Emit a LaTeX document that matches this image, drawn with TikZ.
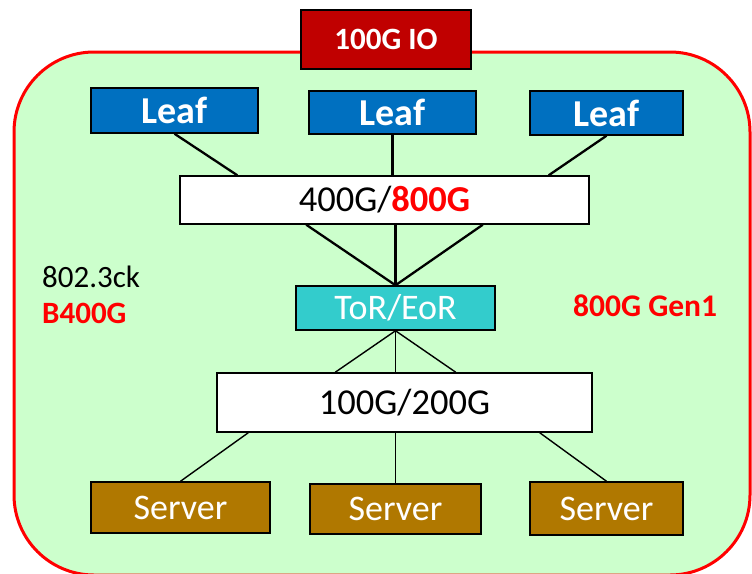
\documentclass[tikz,border=0pt]{standalone}
\usepackage{fontspec}
\setmainfont{Carlito}
\usetikzlibrary{calc}
\definecolor{bggreen}{HTML}{CCFFCC}
\definecolor{iored}{HTML}{C00000}
\definecolor{leafblue}{HTML}{0070C0}
\definecolor{torcyan}{HTML}{33CCCC}
\definecolor{servbrown}{HTML}{B07800}
\definecolor{redtxt}{HTML}{FF0000}
\tikzset{
  box/.style={draw=black, line width=1.5pt, inner sep=0pt, align=center},
  iobox/.style={box, fill=iored, text=white, font=\fontsize{31}{36}\selectfont\bfseries},
  leafbox/.style={box, fill=leafblue, text=white, font=\fontsize{38}{44}\selectfont\bfseries},
  whitebox/.style={box, fill=white, text=black, font=\fontsize{36.5}{42}\selectfont},
  torbox/.style={box, fill=torcyan, text=white, font=\fontsize{36}{42}\selectfont},
  servbox/.style={box, fill=servbrown, text=white, font=\fontsize{36}{42}\selectfont},
  thick link/.style={draw=black, line width=2.3pt},
  thin link/.style={draw=black, line width=1.4pt},
  side/.style={inner sep=0pt, anchor=west, font=\fontsize{31}{36}\selectfont},
}
\begin{document}
\begin{tikzpicture}[x=1pt,y=-1pt]
\useasboundingbox (0,0) rectangle (752,573);
\begin{scope}
\clip (0,0) rectangle (752,573);
\draw[fill=bggreen, draw=redtxt, line width=3pt, rounded corners=80pt] (14,52) rectangle (750,575);
\end{scope}
% nodes
\node[iobox, minimum width=170pt, minimum height=59pt] (io) at (386,39.5) {100G IO};
\node[leafbox, minimum width=167pt, minimum height=45pt] (leaf1) at (174.5,110.5) {\raisebox{-3pt}{Leaf}};
\node[leafbox, minimum width=167pt, minimum height=43pt] (leaf2) at (392.5,112.5) {\raisebox{-3pt}{Leaf}};
\node[leafbox, minimum width=153pt, minimum height=44pt] (leaf3) at (606.5,113) {\raisebox{-3pt}{Leaf}};
\node[whitebox, minimum width=409pt, minimum height=48pt] (mid) at (384.5,200) {400G/\textcolor{redtxt}{\bfseries 800G}};
\node[torbox, minimum width=199pt, minimum height=44pt] (tor) at (395.5,308) {ToR/EoR};
\node[whitebox, minimum width=375pt, minimum height=59pt] (low) at (404.5,402.5) {100G/200G};
\node[servbox, minimum width=179pt, minimum height=51pt] (s1) at (180.5,507.5) {\raisebox{-2pt}{Server}};
\node[servbox, minimum width=171pt, minimum height=50pt] (s2) at (395.5,509) {\raisebox{-2pt}{Server}};
\node[servbox, minimum width=153pt, minimum height=53pt] (s3) at (606.5,508.5) {\raisebox{-2pt}{Server}};
\node[side, text=black] (ck) at (42,277) {802.3ck};
\node[side, text=redtxt, font=\fontsize{31}{36}\selectfont\bfseries] (b400) at (42,313) {B400G};
\node[side, text=redtxt, font=\fontsize{31.5}{36}\selectfont\bfseries] (gen1) at (573,306) {800G Gen1};
% links leaf -> mid
\draw[thick link] (leaf1.south) -- ([xshift=58pt]mid.north west);
\draw[thick link] (leaf2.south) -- (leaf2.south |- mid.north);
\draw[thick link] (leaf3.south) -- ([xshift=-41pt]mid.north east);
% mid -> tor
\draw[thick link] ([xshift=127pt]mid.south west) -- (tor.north);
\draw[thick link] (tor.north |- mid.south) -- (tor.north);
\draw[thick link] ([xshift=-107pt]mid.south east) -- (tor.north);
% tor -> low
\draw[thin link] (tor.south) -- ([xshift=119pt]low.north west);
\draw[thin link] (tor.south) -- (tor.south |- low.north);
\draw[thin link] (tor.south) -- ([xshift=-137pt]low.north east);
% low -> servers
\draw[thin link] ([xshift=32pt]low.south west) -- (s1.north);
\draw[thin link] (s2.north |- low.south) -- (s2.north);
\draw[thin link] ([xshift=-53pt]low.south east) -- (s3.north);
\end{tikzpicture}
\end{document}
